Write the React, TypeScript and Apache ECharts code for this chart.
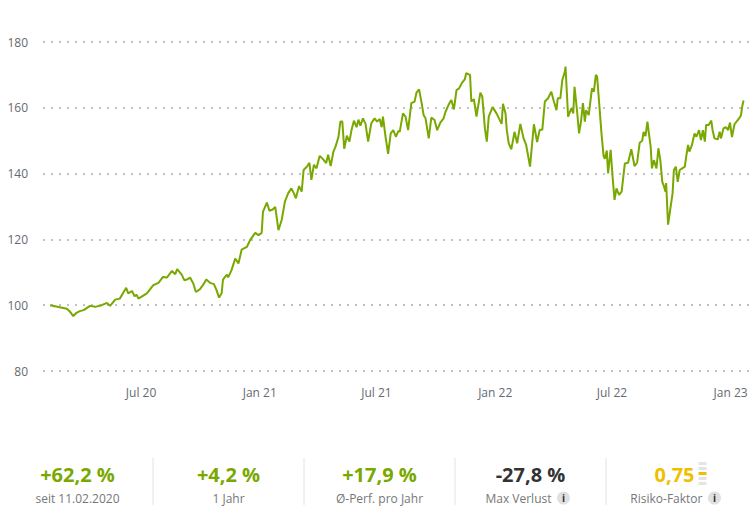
import React, { useEffect, useRef } from "react";
import * as echarts from "echarts";

// Start of the performance series: 11.02.2020 (indexed to 100)
const startDateUTC = Date.UTC(2020, 1, 11);

// Day offsets (days since 11.02.2020) of the sampled points
const dayOffsets = [
  0, 15, 26, 31, 36, 41, 46, 52, 62, 70, 80, 88, 93, 101, 108, 118, 121, 127, 131, 134, 137,
  150, 160, 168, 175, 181, 189, 194, 197, 204, 208, 212, 217, 222, 226, 232, 237, 242, 248,
  254, 258, 262, 266, 268, 274, 276, 281, 287, 292, 297, 305, 310, 318, 323, 328, 330, 336,
  340, 345, 349, 354, 359, 364, 369, 374, 378, 381, 386, 390, 393, 398, 402, 405, 409, 413,
  418, 423, 428, 431, 435, 439, 443, 447, 450, 453, 456, 460, 464, 467, 471, 475, 478, 481,
  485, 489, 493, 498, 503, 507, 511, 514, 516, 520, 524, 528, 532, 536, 540, 542, 547, 551,
  555, 560, 565, 568, 572, 576, 579, 582, 587, 591, 596, 600, 605, 610, 613, 619, 622, 626,
  630, 634, 638, 643, 645, 651, 653, 657, 661, 667, 670, 674, 677, 680, 686, 692, 700, 702,
  706, 708, 711, 715, 720, 724, 729, 734, 738, 744, 750, 755, 759, 763, 767, 772, 777, 781,
  785, 787, 791, 794, 798, 799, 803, 808, 811, 813, 817, 820, 823, 826, 829, 831, 835, 840,
  843, 846, 848, 852, 855, 858, 860, 863, 865, 869, 872, 875, 878, 882, 886, 891, 896, 901,
  906, 910, 914, 918, 920, 923, 926, 928, 931, 933, 936, 940, 943, 946, 949, 951, 954, 955,
  958, 962, 965, 967, 970, 973, 976, 980, 984, 986, 989, 991, 995, 999, 1002, 1006, 1009,
  1012, 1015, 1017, 1021, 1025, 1027, 1030, 1035, 1038, 1040, 1044, 1048, 1051, 1054, 1057,
  1061, 1065, 1068, 1070, 1071, 1073, 1075,
];

// Indexed value (start = 100)
const values = [
  100.0, 99.4, 98.9, 98.0, 96.7, 97.7, 98.2, 98.5, 99.8, 99.5, 100.0, 100.7, 99.8, 101.7, 102.0,
  105.3, 103.6, 104.3, 102.7, 103.2, 102.0, 103.6, 106.1, 106.8, 108.6, 108.4, 110.4, 109.4,
  111.0, 109.3, 107.6, 107.8, 108.4, 106.6, 104.0, 104.8, 106.1, 107.8, 106.8, 106.4, 104.6,
  102.3, 103.7, 107.8, 109.3, 108.5, 110.5, 114.2, 112.7, 116.9, 117.7, 119.8, 122.0, 121.3,
  122.0, 128.4, 131.2, 128.7, 129.1, 129.9, 122.8, 125.9, 131.5, 134.0, 135.5, 134.0, 132.5,
  136.2, 134.5, 141.1, 142.1, 143.3, 138.1, 142.7, 141.6, 145.4, 144.4, 143.2, 145.7, 142.3,
  146.5, 148.5, 151.1, 155.8, 155.8, 147.5, 151.5, 149.7, 153.0, 156.1, 154.1, 156.4, 154.6,
  156.8, 155.1, 149.7, 155.3, 156.8, 155.8, 156.6, 154.1, 157.3, 151.2, 146.0, 152.2, 153.2,
  151.2, 153.0, 152.7, 158.3, 157.3, 153.2, 161.4, 161.9, 164.6, 165.6, 161.4, 157.8, 156.8,
  150.7, 157.0, 156.3, 153.2, 155.5, 156.8, 158.8, 161.4, 162.4, 159.5, 165.4, 165.9, 167.4,
  168.7, 170.5, 170.0, 161.9, 162.6, 157.3, 164.6, 163.4, 153.8, 149.7, 157.3, 160.2, 158.3,
  155.1, 161.2, 158.3, 153.2, 149.2, 147.4, 152.7, 149.2, 155.1, 150.7, 148.7, 142.1, 155.0,
  149.6, 153.3, 153.3, 161.9, 162.9, 164.9, 161.9, 159.3, 162.9, 162.9, 168.4, 171.0, 172.5,
  157.3, 159.8, 158.3, 166.4, 158.8, 152.2, 155.8, 161.4, 155.8, 159.3, 157.8, 165.9, 164.9,
  170.0, 169.5, 159.3, 151.7, 145.4, 144.5, 147.0, 140.1, 147.2, 139.0, 132.0, 135.5, 133.5,
  134.5, 143.1, 143.3, 147.4, 142.3, 143.3, 149.4, 150.0, 152.7, 151.4, 155.8, 152.7, 148.2,
  141.6, 144.1, 141.6, 147.7, 144.1, 137.5, 136.5, 134.5, 137.1, 124.5, 130.0, 134.0, 141.1,
  142.1, 137.5, 141.1, 141.6, 142.1, 145.1, 148.7, 146.7, 148.7, 152.2, 151.2, 153.2, 150.2,
  153.2, 149.7, 154.8, 154.8, 156.1, 153.2, 150.7, 150.4, 152.7, 150.7, 153.8, 154.1, 153.2,
  155.5, 151.1, 155.0, 156.0, 156.8, 157.3, 157.8, 160.5, 162.2,
];

// X-axis tick dates and month names
const tickDates = ["2020-07-01", "2021-01-01", "2021-07-01", "2022-01-01", "2022-07-01", "2023-01-01"];
const monthNames = ["Jan", "Feb", "Mär", "Apr", "Mai", "Jun", "Jul", "Aug", "Sep", "Okt", "Nov", "Dez"];

// Key figures row
const statValues = ["+62,2 %", "+4,2 %", "+17,9 %", "-27,8 %", "0,75"];
const statLabels = ["seit 11.02.2020", "1 Jahr", "Ø-Perf. pro Jahr", "Max Verlust", "Risiko-Faktor"];
const statInfo = [false, false, false, true, true];
const riskLevels = 5;
const riskActive = 3; // 1-based from top

const GREEN = "#79a800";
const FONT = "'Open Sans', 'Noto Sans', sans-serif";

export default function App() {
  const ref = useRef<HTMLDivElement>(null);

  useEffect(() => {
    document.body.style.margin = "0";
    if (!ref.current) return;
    const chart = echarts.init(ref.current, null, { renderer: "svg" });

    const data = dayOffsets.map((d, i) => [startDateUTC + d * 86400000, values[i]]);
    const tickValues = tickDates.map((s) => new Date(s + "T00:00:00Z").getTime());

    const colW = 151;
    const colX0 = 2;
    const graphics: any[] = [];
    const statColors = [GREEN, GREEN, GREEN, "#333333", "#f0c000"];
    for (let i = 0; i < statValues.length; i++) {
      const cx = colX0 + colW * i + colW / 2;
      if (i > 0) {
        graphics.push({
          type: "line",
          shape: { x1: colX0 + colW * i, y1: 458, x2: colX0 + colW * i, y2: 505 },
          style: { stroke: "#e2e2e2", lineWidth: 1 },
        });
      }
      const isRisk = i === 4;
      graphics.push({
        type: "text",
        x: isRisk ? cx - 7 : cx,
        y: 474,
        style: {
          text: statValues[i],
          fill: statColors[i],
          font: `bold 20px ${FONT}`,
          align: "center",
          verticalAlign: "middle",
        },
      });
      if (isRisk) {
        for (let k = 0; k < riskLevels; k++) {
          graphics.push({
            type: "rect",
            shape: { x: cx + 17, y: 462 + k * 5, width: 8, height: 3 },
            style: { fill: k + 1 === riskActive ? "#f0c000" : "#e4e4e4" },
          });
        }
      }
      if (statInfo[i]) {
        graphics.push({
          type: "text",
          x: cx + 21,
          y: 498,
          style: {
            text: statLabels[i],
            fill: "#777777",
            font: `12px ${FONT}`,
            align: "right",
            verticalAlign: "middle",
          },
        });
        graphics.push({
          type: "circle",
          shape: { cx: cx + 33, cy: 498, r: 6.5 },
          style: { fill: "#e0e0e0" },
        });
        graphics.push({
          type: "text",
          x: cx + 33,
          y: 498,
          style: {
            text: "i",
            fill: "#333333",
            font: `bold 10px ${FONT}`,
            align: "center",
            verticalAlign: "middle",
          },
        });
      } else {
        graphics.push({
          type: "text",
          x: cx,
          y: 498,
          style: {
            text: statLabels[i],
            fill: "#777777",
            font: `12px ${FONT}`,
            align: "center",
            verticalAlign: "middle",
          },
        });
      }
    }

    chart.setOption({
      animation: false,
      backgroundColor: "#ffffff",
      grid: { left: 43, right: 5, top: 42, bottom: 142 },
      xAxis: {
        type: "value",
        min: Date.UTC(2020, 0, 31),
        max: Date.UTC(2023, 0, 31),
        axisLine: { show: false },
        axisTick: { show: false },
        splitLine: { show: false },
        axisLabel: {
          customValues: tickValues,
          margin: 15,
          color: "#666a70",
          fontSize: 12,
          fontFamily: FONT,
          formatter: (v: number) => {
            const d = new Date(v);
            return monthNames[d.getUTCMonth()] + " " + String(d.getUTCFullYear()).slice(2);
          },
        },
      },
      yAxis: {
        type: "value",
        min: 80,
        max: 180,
        interval: 20,
        axisLine: { show: false },
        axisTick: { show: false },
        axisLabel: { margin: 15, color: "#666a70", fontSize: 12, fontFamily: FONT },
        splitLine: { lineStyle: { color: "#c2c2c2", width: 2, type: [2, 6] } },
      },
      series: [
        {
          type: "line",
          data,
          showSymbol: false,
          symbol: "none",
          lineStyle: { color: GREEN, width: 2 },
          itemStyle: { color: GREEN },
        },
      ],
      graphic: graphics,
    });

    return () => chart.dispose();
  }, []);

  return <div ref={ref} style={{ position: "absolute", left: 0, top: 0, width: 755, height: 513 }} />;
}
